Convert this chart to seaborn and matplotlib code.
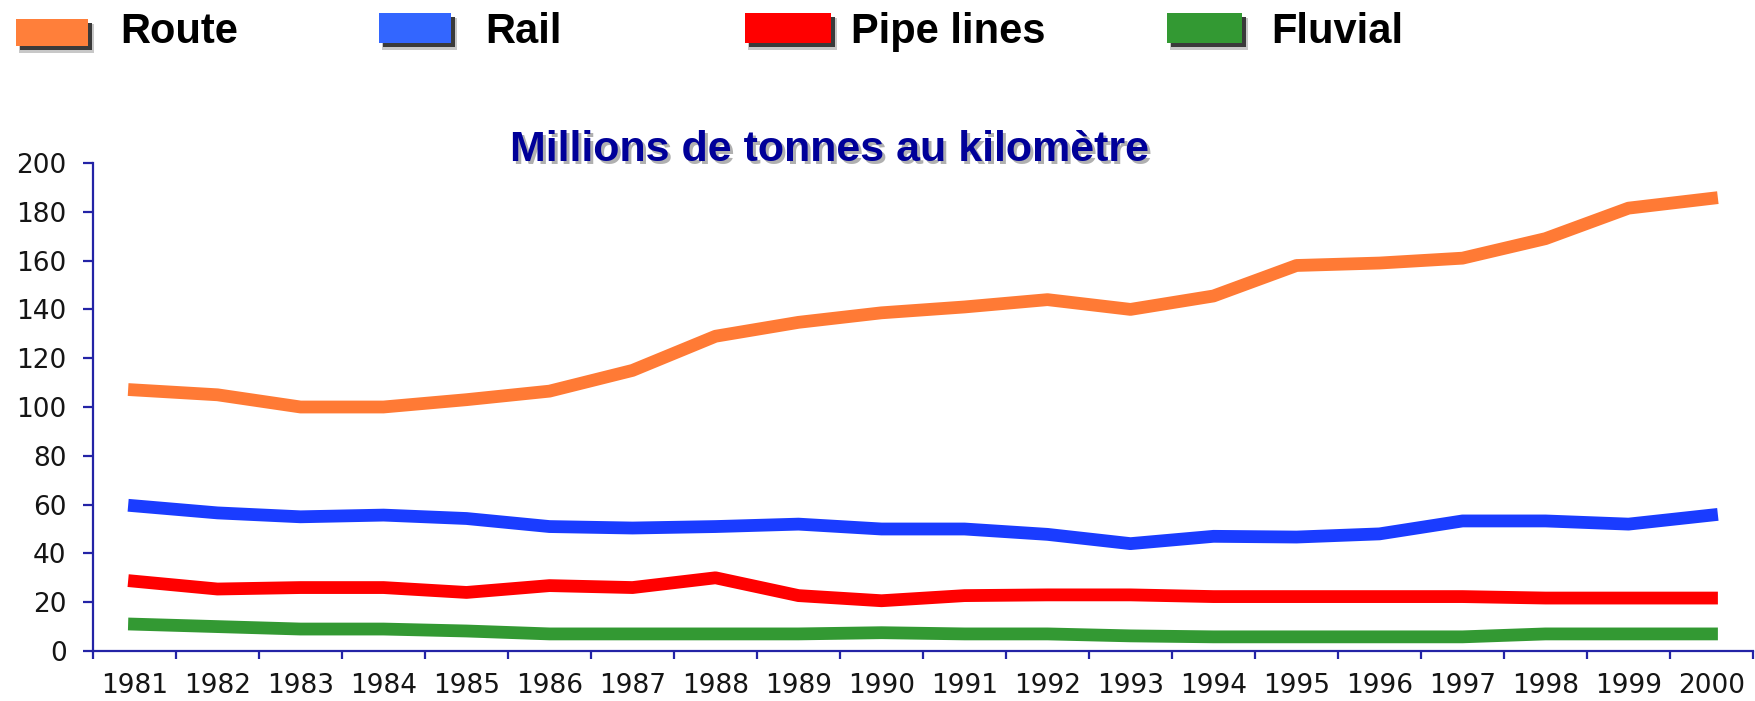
import matplotlib
matplotlib.use("Agg")
import matplotlib.pyplot as plt
from matplotlib.patches import Rectangle
import seaborn as sns
import pandas as pd
import numpy as np

# ---- data ----
years = list(range(1981, 2001))
route = [107, 105, 100, 100, 103, 106.5, 115, 129, 134.7, 138.6, 141, 144, 140, 145.5, 158, 159, 161, 169, 181.5, 185.5]
rail = [59.5, 56.6, 55, 55.7, 54.3, 51, 50.4, 51, 52, 50, 50, 47.8, 44, 47, 46.7, 48, 53.3, 53.3, 52, 55.7]
pipe = [28.6, 25.4, 26, 26, 24, 26.8, 26, 30, 22.7, 20.6, 22.7, 23, 23, 22.3, 22.3, 22.3, 22.3, 21.7, 21.7, 21.7]
fluvial = [11, 10, 9, 9, 8.2, 7, 7, 7, 7, 7.5, 7, 7, 6.2, 5.8, 5.8, 5.8, 5.8, 7, 7, 7]
series_names = ["Route", "Rail", "Pipe lines", "Fluvial"]
y_ticks = [0, 20, 40, 60, 80, 100, 120, 140, 160, 180, 200]
title = "Millions de tonnes au kilomètre"

line_colors = {"Route": "#FF7A35", "Rail": "#1A3CFF", "Pipe lines": "#FF0000", "Fluvial": "#339933"}
patch_colors = {"Route": "#FF7F3A", "Rail": "#3366FF", "Pipe lines": "#FF0000", "Fluvial": "#339933"}

df = pd.DataFrame({
    "year": years * 4,
    "value": route + rail + pipe + fluvial,
    "series": sum([[n] * len(years) for n in series_names], []),
})

sns.set_theme(style="white")
plt.rcParams["font.family"] = ["DejaVu Sans"]

W, H = 1756, 701
fig = plt.figure(figsize=(W / 100, H / 100), dpi=100)
fig.patch.set_facecolor("white")

axis_col = "#2323A6"
ax = fig.add_axes([93 / W, 1 - 651 / H, 1660 / W, 488 / H])
sns.lineplot(data=df, x="year", y="value", hue="series", palette=line_colors,
             hue_order=series_names, linewidth=9.2, ax=ax, legend=False,
             solid_capstyle="projecting")
for ln in ax.lines:
    ln.set_solid_capstyle("projecting")
    ln.set_solid_joinstyle("round")

ax.set_xlim(years[0] - 0.5, years[-1] + 0.5)
ax.set_ylim(0, 200)
ax.set_xlabel("")
ax.set_ylabel("")
for s in ["top", "right"]:
    ax.spines[s].set_visible(False)
for s in ["left", "bottom"]:
    ax.spines[s].set_color(axis_col)
    ax.spines[s].set_linewidth(1.6)

# x: ticks at category boundaries, labels at centers
ax.set_xticks(np.arange(years[0] - 0.5, years[-1] + 0.6, 1.0))
ax.set_xticklabels([])
ax.set_xticks(years, minor=True)
ax.set_xticklabels([str(y) for y in years], minor=True)
ax.tick_params(axis="x", which="major", direction="out", length=6, width=1.6,
               color=axis_col, bottom=True)
ax.tick_params(axis="x", which="minor", length=0, pad=16, labelsize=19,
               labelcolor="#151515", bottom=True)
ax.set_yticks(y_ticks)
ax.set_yticklabels([str(v) for v in y_ticks])
ax.tick_params(axis="y", direction="out", length=7, width=1.6, color=axis_col,
               pad=12, labelsize=19, labelcolor="#151515", left=True)
ax.grid(False)

# ---- title with shadow ----
tx, ty = 830 / W, 1 - 150 / H
fig.text(tx + 2.5 / W, ty - 2.5 / H, title, ha="center", va="center",
         fontsize=31, fontweight="bold", color="#B0B0B0", family="Liberation Sans")
fig.text(tx, ty, title, ha="center", va="center",
         fontsize=31, fontweight="bold", color="#000099", family="Liberation Sans")

# ---- legend at top ----
legend_items = [
    ("Route", 16, 19, 72, 27, 120),
    ("Rail", 379, 13, 72, 30, 485),
    ("Pipe lines", 745, 13, 86, 30, 851),
    ("Fluvial", 1167, 13, 75, 30, 1271),
]
for name, px, py, pw, ph, tx_px in legend_items:
    # soft halo
    fig.patches.append(Rectangle(((px + 3) / W, 1 - (py + ph + 7) / H), (pw + 3) / W, (ph + 2) / H,
                                 transform=fig.transFigure, facecolor="#C8C8C8",
                                 edgecolor="none", zorder=1))
    # dark shadow
    fig.patches.append(Rectangle(((px + 4) / W, 1 - (py + ph + 4) / H), pw / W, ph / H,
                                 transform=fig.transFigure, facecolor="#3A3A3A",
                                 edgecolor="none", zorder=2))
    fig.patches.append(Rectangle((px / W, 1 - (py + ph) / H), pw / W, ph / H,
                                 transform=fig.transFigure, facecolor=patch_colors[name],
                                 edgecolor="none", zorder=3))
    fig.text(tx_px / W, 1 - 32 / H, name, ha="left", va="center", fontsize=30,
             fontweight="bold", color="black", family="Liberation Sans")

fig.savefig("out.png", dpi=100, facecolor="white")
